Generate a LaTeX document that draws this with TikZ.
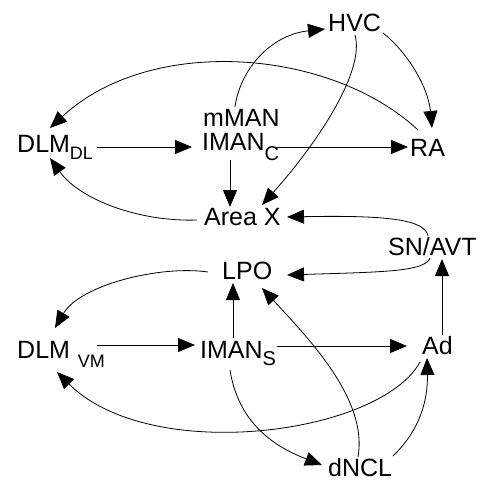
\documentclass[tikz,border=0pt]{standalone}
\usepackage{fontspec}
\setmainfont{Liberation Sans}
\usetikzlibrary{arrows.meta}
\tikzset{
  lab/.style={inner sep=0pt, anchor=base west, font=\fontsize{25}{25}\selectfont},
  conn/.style={line width=0.8pt, -{Triangle[length=17pt,width=14pt]}}
}
\newcommand{\subA}[2]{\raisebox{#1}{\fontsize{18}{18}\selectfont #2}}
\newcommand{\subB}[2]{\raisebox{#1}{\fontsize{20}{20}\selectfont #2}}
\begin{document}
\begin{tikzpicture}[x=1pt,y=-1pt]
\useasboundingbox (0,0) rectangle (479,481);
% nodes
\node[lab] (hvc)   at (328,32)  {HVC};
\node[lab] (mman)  at (203,127) {mMAN};
\node[lab] (dlmdl) at (17,153)  {DLM\subA{-7pt}{DL}};
\node[lab] (imanc) at (202,150) {IMAN\subB{-10pt}{C}};
\node[lab] (ra)    at (410,157) {RA};
\node[lab] (areax) at (204,225) {Area X};
\node[lab] (snavt) at (388,255) {SN/AVT};
\node[lab] (lpo)   at (222,279) {LPO};
\node[lab] (dlmvm) at (17,358)  {DLM\hspace{8pt}\subA{-9pt}{VM}};
\node[lab] (imans) at (200,358) {IMAN\subB{-7pt}{S}};
\node[lab] (ad)    at (422,354) {Ad};
\node[lab] (dncl)  at (328,476) {dNCL};
% connectors
\draw[conn] ([shift={(80,-6)}]dlmdl.base west) -- ([shift={(-10,-3)}]imanc.base west);
\draw[conn] ([shift={(73,-3)}]imanc.base west) -- ([shift={(-2,-10)}]ra.base west);
\draw[conn] ([shift={(28,10)}]imanc.base west) -- ([shift={(26,-18)}]areax.base west);
\draw[conn] ([shift={(32,-20)}]mman.base west) .. controls (240,70) and (270,35) .. ([shift={(-3,-3)}]hvc.base west);
\draw[conn] ([shift={(55,1)}]hvc.base west) .. controls (405,50) and (428,85) .. ([shift={(22,-29)}]ra.base west);
\draw[conn] ([shift={(27,3)}]hvc.base west) .. controls (365,70) and (320,140) .. ([shift={(58,-20)}]areax.base west);
\draw[conn] ([shift={(8,-27)}]ra.base west) .. controls (330,48) and (150,35) .. ([shift={(33,-25)}]dlmdl.base west);
\draw[conn] ([shift={(-7,-5)}]areax.base west) .. controls (140,222) and (80,200) .. ([shift={(33,5)}]dlmdl.base west);
\draw[conn] ([shift={(40,-19)}]snavt.base west) .. controls (425,220) and (390,215) .. ([shift={(83,-8)}]areax.base west);
\draw[conn] ([shift={(42,3)}]snavt.base west) .. controls (425,272) and (380,272) .. ([shift={(65,-4)}]lpo.base west);
\draw[conn] ([shift={(20,-19)}]ad.base west) -- ([shift={(54,4)}]snavt.base west);
\draw[conn] ([shift={(33,-20)}]imans.base west) -- ([shift={(11,4)}]lpo.base west);
\draw[conn] ([shift={(-14,-7)}]lpo.base west) .. controls (160,265) and (80,285) .. ([shift={(38,-30)}]dlmvm.base west);
\draw[conn] ([shift={(80,-13)}]dlmvm.base west) -- ([shift={(-5,-13)}]imans.base west);
\draw[conn] ([shift={(77,-12)}]imans.base west) -- ([shift={(-15,-8)}]ad.base west);
\draw[conn] ([shift={(-2,8)}]ad.base west) .. controls (380,435) and (150,465) .. ([shift={(40,14)}]dlmvm.base west);
\draw[conn] ([shift={(30,12)}]imans.base west) .. controls (238,420) and (270,445) .. ([shift={(-6,-11)}]dncl.base west);
\draw[conn] ([shift={(30,-19)}]dncl.base west) .. controls (368,400) and (310,340) .. ([shift={(40,9)}]lpo.base west);
\draw[conn] ([shift={(65,-20)}]dncl.base west) .. controls (420,430) and (428,400) .. ([shift={(5,4)}]ad.base west);
\end{tikzpicture}
\end{document}
